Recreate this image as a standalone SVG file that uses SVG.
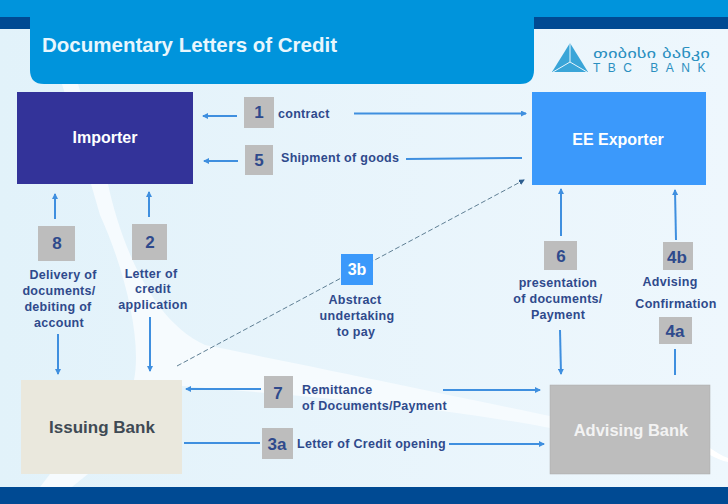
<svg xmlns="http://www.w3.org/2000/svg" width="728" height="504" viewBox="0 0 728 504">
<style>
text{font-family:"Liberation Sans",Arial,sans-serif;font-weight:700}
.lb{font-size:12.500px;fill:#2f4a8c;letter-spacing:.3px}
.m{text-anchor:middle}
.num{font-size:17px;fill:#2f4a8c;text-anchor:middle}
.sq{fill:#bdbdbd}
.nt{font-size:16px;fill:#fff;text-anchor:middle}
.c{stroke:#3f8fdf;stroke-width:2;fill:none}
</style>
<defs>
<linearGradient id="bg" x1="0" y1="0" x2="1" y2="0"><stop offset="0" stop-color="#e2f2fa"/><stop offset="1" stop-color="#eef7fd"/></linearGradient>
<marker id="a" markerWidth="7" markerHeight="6" refX="5" refY="3" orient="auto" markerUnits="userSpaceOnUse"><path d="M0 0L6 3L0 6z" fill="#3f8fdf"/></marker>
<marker id="d" markerWidth="7" markerHeight="6" refX="5" refY="3" orient="auto" markerUnits="userSpaceOnUse"><path d="M0 0L6 3L0 6z" fill="#2f5f90"/></marker>
</defs>
<g id="background">
<rect width="728" height="504" fill="url(#bg)"/>
<path d="M62 84H78L108 184C120 240 150 320 205 345C290 362 450 395 550 416V428C430 405 290 395 182 386L134 380C142 340 125 270 100 215Z" fill="#f6fbfe"/>
<path d="M50 474H88L72 487H40Z" fill="#f6fbfe"/>
<path d="M710 448C716 452 722 456 728 458V462C722 461 716 458 710 455Z" fill="#fff"/>
<rect x="0" y="0" width="728" height="17" fill="#0094dc"/>
<rect x="0" y="17" width="30" height="12" fill="#004a93"/>
<rect x="534" y="17" width="194" height="12" fill="#004a93"/>
<rect x="0" y="487" width="728" height="17" fill="#004a93"/>
</g>
<g id="header">
<path d="M30 10H534V70Q534 84 520 84H44Q30 84 30 70Z" fill="#0094dc"/>
<text x="42" y="52" font-size="20.500" fill="#e8f6fd">Documentary Letters of Credit</text>
</g>
<g id="logo">
<path d="M552 72L570 43L588 72Z" fill="#3aa5d8"/>
<path d="M570 43L570 62M553 72L570 62L587 72" stroke="#e8f6fd" stroke-width="1" fill="none"/>
<text x="593" y="58" font-size="12" fill="#2a8fc0" style="font-family:'DejaVu Sans',sans-serif;font-weight:400" textLength="117" lengthAdjust="spacingAndGlyphs">თიბისი ბანკი</text>
<text x="593" y="72" font-size="12" fill="#2a8fc0" letter-spacing="7.500" style="font-weight:400">TBC BANK</text>
</g>
<g id="connectors">
<path class="c" d="M237 116H203" marker-end="url(#a)"/>
<path class="c" d="M354 113.500H526" marker-end="url(#a)"/>
<path class="c" d="M238 161H204" marker-end="url(#a)"/>
<path class="c" d="M406 159L522 158"/>
<path class="c" d="M55 219V194" marker-end="url(#a)"/>
<path class="c" d="M149 217V192" marker-end="url(#a)"/>
<path class="c" d="M561 236V189" marker-end="url(#a)"/>
<path class="c" d="M676 240L675 190" marker-end="url(#a)"/>
<path class="c" d="M58 334V374" marker-end="url(#a)"/>
<path class="c" d="M150 317V371" marker-end="url(#a)"/>
<path class="c" d="M560 330L561 374" marker-end="url(#a)"/>
<path class="c" d="M675 349V375"/>
<path class="c" d="M261 389H186" marker-end="url(#a)"/>
<path class="c" d="M443 390H540" marker-end="url(#a)"/>
<path class="c" d="M184 443H260"/>
<path class="c" d="M449 444H544" marker-end="url(#a)"/>
<path d="M177 366L524 180" stroke="#5f7f94" stroke-width="1" stroke-dasharray="5 2.500" fill="none" marker-end="url(#d)"/>
</g>
<g id="importer"><rect x="17" y="92" width="176" height="92" fill="#333399"/><text class="nt" x="105" y="143">Importer</text></g>
<g id="exporter"><rect x="532" y="92" width="174" height="93" fill="#3b99fb"/><text class="nt" x="618" y="145">EE Exporter</text></g>
<g id="issuing"><rect x="21" y="380" width="161" height="94" fill="#eae8dd"/><text x="102" y="433" font-size="17" fill="#3f4a54" text-anchor="middle">Issuing Bank</text></g>
<g id="advising"><rect x="550" y="385" width="160" height="89" fill="#bdbdbd" stroke="#aaa" stroke-width=".5"/><text x="631" y="436" font-size="16.500" fill="#f3f3f3" text-anchor="middle">Advising Bank</text></g>
<g id="step-1"><rect class="sq" x="244" y="97" width="30" height="31"/><text class="num" x="259" y="118">1</text><text class="lb" x="278" y="118">contract</text></g>
<g id="step-5"><rect class="sq" x="245" y="145" width="28" height="30"/><text class="num" x="259" y="166">5</text><text class="lb" x="281" y="162">Shipment of goods</text></g>
<g id="step-8"><rect class="sq" x="38" y="226" width="37" height="35"/><text class="num" x="57" y="249">8</text><text class="lb m" x="63" y="279">Delivery of</text><text class="lb m" x="59" y="295">documents/</text><text class="lb m" x="58" y="311">debiting of</text><text class="lb m" x="59" y="327">account</text></g>
<g id="step-2"><rect class="sq" x="132" y="224" width="35" height="36"/><text class="num" x="150" y="248">2</text><text class="lb m" x="151" y="278">Letter of</text><text class="lb m" x="153" y="293">credit</text><text class="lb m" x="153" y="309">application</text></g>
<g id="step-3b"><rect x="341" y="254" width="32" height="31" fill="#3b99fb"/><text x="357" y="275" font-size="16" fill="#fff" text-anchor="middle">3b</text><text class="lb m" x="355" y="304">Abstract</text><text class="lb m" x="357" y="320">undertaking</text><text class="lb m" x="356" y="336">to pay</text></g>
<g id="step-6"><rect class="sq" x="544" y="241" width="33" height="29"/><text class="num" x="561" y="262">6</text><text class="lb m" x="558" y="287">presentation</text><text class="lb m" x="558" y="303">of documents/</text><text class="lb m" x="558" y="319">Payment</text></g>
<g id="step-4b"><rect class="sq" x="663" y="242" width="30" height="28"/><text class="num" x="677" y="263">4b</text><text class="lb m" x="670" y="286">Advising</text></g>
<g id="step-4a"><text class="lb m" x="676" y="308">Confirmation</text><rect class="sq" x="659" y="317" width="33" height="27"/><text class="num" x="675" y="337">4a</text></g>
<g id="step-7"><rect class="sq" x="264" y="376" width="29" height="32"/><text class="num" x="278" y="399">7</text><text class="lb" x="302" y="394">Remittance</text><text class="lb" x="302" y="410">of Documents/Payment</text></g>
<g id="step-3a"><rect class="sq" x="262" y="428" width="31" height="31"/><text class="num" x="277" y="450">3a</text><text class="lb" x="297" y="448">Letter of Credit opening</text></g>
</svg>
